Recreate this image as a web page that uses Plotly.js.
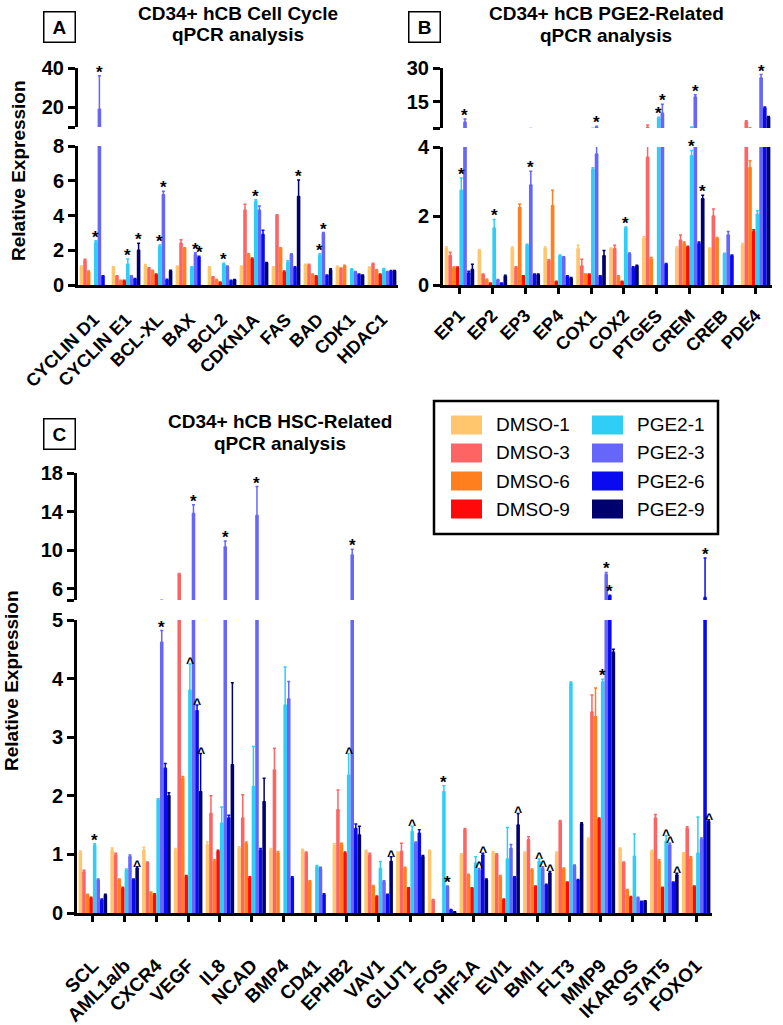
<!DOCTYPE html>
<html><head><meta charset="utf-8">
<script src="https://cdn.plot.ly/plotly-3.0.1.min.js"></script>
<style>html,body{margin:0;padding:0;background:#fff;} #chart{width:783px;height:1025px;}</style>
</head><body><div id="chart"></div>
<script>
// ---------------- DATA ----------------
const seriesNames = ['DMSO-1','DMSO-3','DMSO-6','DMSO-9','PGE2-1','PGE2-3','PGE2-6','PGE2-9'];
const seriesColors = ['#FFC66E','#FF6464','#FF7F1F','#FF0A0A','#2ECEF7','#6666FA','#0A0AF0','#00006E'];

// Panel A  (each row = one gene, 8 values in series order)
const aCategories = ['CYCLIN D1','CYCLIN E1','BCL-XL','BAX','BCL2','CDKN1A','FAS','BAD','CDK1','HDAC1'];
const aRows = [
 [1.05,1.4,0.75,null,2.45,19,0.5,null],
 [1.0,0.5,0.25,0.25,1.2,0.5,0.35,2.0],
 [1.1,0.95,0.8,0.6,2.2,5.2,0.3,0.8],
 [1.05,2.4,2.1,null,1.0,1.75,1.6,null],
 [1.0,0.45,0.3,0.15,1.2,1.05,0.25,0.3],
 [1.05,4.3,1.75,1.5,4.8,4.3,2.9,1.25],
 [1.0,4.0,2.1,0.75,1.3,1.75,1.0,5.1],
 [1.15,1.15,0.6,0.5,1.7,2.95,0.55,0.85],
 [1.05,0.95,1.1,null,0.9,0.75,0.6,0.55],
 [1.0,1.2,0.85,0.6,0.9,0.75,0.8,0.8]
];
const aErrRows = [
 [0.05,0.08,0.05,0,0.1,17,0.03,0],
 [0.05,0.03,0.02,0.02,0.3,0.03,0.03,0.4],
 [0.08,0.05,0.05,0.03,0.1,0.2,0.03,0.05],
 [0.05,0.2,0.05,0,0.05,0.1,0.05,0],
 [0.05,0.03,0.02,0.02,0.05,0.05,0.02,0.02],
 [0.05,0.35,0.05,0.05,0.1,0.25,0.25,0.05],
 [0.05,0.05,0.05,0.05,0.1,0.05,0.05,0.95],
 [0.05,0.05,0.03,0.03,0.1,0.07,0.03,0.08],
 [0.03,0.03,0.03,0,0.03,0.03,0.03,0.03],
 [0.03,0.05,0.03,0.03,0.05,0.03,0.03,0.03]
];
const aMarks = [['CYCLIN D1',4,'*'],['CYCLIN D1',5,'*'],['CYCLIN E1',4,'*'],['CYCLIN E1',7,'*'],
 ['BCL-XL',4,'*'],['BCL-XL',5,'*'],['BAX',5,'*'],['BAX',6,'*'],['BCL2',4,'*'],['CDKN1A',4,'*'],
 ['FAS',7,'*'],['BAD',4,'*'],['BAD',5,'*']];

// Panel B
const bCategories = ['EP1','EP2','EP3','EP4','COX1','COX2','PTGES','CREM','CREB','PDE4'];
const bRows = [
 [1.05,0.85,0.5,0.5,2.75,6,0.35,0.45],
 [1.0,0.3,0.15,0.05,1.65,0.15,0.05,0.25],
 [1.05,0.5,2.25,0.25,1.15,2.9,0.3,0.3],
 [1.05,0.7,2.3,0.1,0.85,0.8,0.25,0.2],
 [1.05,0.55,0.3,0.3,3.35,3.8,0.25,0.85],
 [1.05,1.05,0.25,0.1,1.65,0.9,0.5,0.55],
 [1.35,3.7,0.75,null,7.8,10,0.6,null],
 [1.05,1.3,1.2,1.1,3.75,17.2,1.2,2.5],
 [1.05,2.0,1.35,null,0.9,1.45,0.85,null],
 [1.15,6.2,3.4,1.55,2.05,25.6,12.3,8.4]
];
const bErrRows = [
 [0.05,0.1,0.02,0.02,0.35,1.5,0.05,0.15],
 [0.02,0.02,0.02,0.01,0.25,0.01,0.01,0.03],
 [0.05,0.03,0.1,0.02,0.03,0.4,0.02,0.02],
 [0.05,0.03,0.45,0.01,0.02,0.02,0.02,0.02],
 [0.1,0.2,0.02,0.02,0.05,0.5,0.02,0.15],
 [0.02,0.1,0.02,0.01,0.03,0.03,0.03,0.02],
 [0.05,1.1,0.05,0,0.5,4,0.02,0],
 [0.05,0.15,0.05,0.02,0.15,1,0.05,0.1],
 [0.02,0.2,0.03,0,0.02,0.1,0.02,0],
 [0.05,0.5,0.2,0.05,0.1,1.5,0.5,0.2]
];
const bMarks = [['EP1',4,'*'],['EP1',5,'*'],['EP2',4,'*'],['EP3',5,'*'],['COX1',5,'*'],['COX2',4,'*'],
 ['PTGES',4,'*'],['PTGES',5,'*'],['CREM',4,'*'],['CREM',5,'*'],['CREM',7,'*'],['PDE4',5,'*']];

// Panel C
const cCategories = ['SCL','AML1a/b','CXCR4','VEGF','IL8','NCAD','BMP4','CD41','EPHB2','VAV1',
 'GLUT1','FOS','HIF1A','EVI1','BMI1','FLT3','MMP9','IKAROS','STAT5','FOXO1'];
const cRows = [
 [1.03,0.7,0.3,0.25,1.15,0.56,0.22,0.3],
 [1.07,0.99,0.56,0.42,0.73,0.96,0.56,0.76],
 [1.07,0.85,0.34,0.31,1.93,4.62,2.47,2.0],
 [1.07,7.5,2.3,0.62,3.8,13.8,3.45,2.07],
 [1.16,1.7,0.88,1.05,1.53,10.35,1.62,2.53],
 [1.1,1.62,1.18,0.6,2.16,13.6,1.07,1.9],
 [1.07,2.44,1.02,null,3.55,3.65,0.6,null],
 [1.07,1.02,0.53,null,0.79,0.76,0.31,null],
 [1.15,1.76,1.16,1.02,2.35,9.5,1.44,1.33],
 [1.05,0.99,0.45,0.28,0.76,0.53,0.31,0.88],
 [1.02,1.05,0.76,0.42,1.39,1.19,1.36,0.96],
 [1.05,0.22,null,null,2.07,0.45,0.05,0.02],
 [0.99,1.42,0.64,0.42,0.85,0.73,0.99,0.56],
 [1.03,0.99,0.62,0.23,0.92,1.1,0.6,1.5],
 [1.02,1.25,0.73,0.45,0.88,0.76,0.48,0.68],
 [1.02,1.56,0.75,0.52,3.92,0.8,0.56,1.52],
 [1.25,3.43,3.35,1.6,3.94,7.5,5.3,4.45],
 [1.09,0.85,0.39,0.27,0.97,0.26,0.19,0.2],
 [1.05,1.62,0.88,0.43,1.22,1.16,0.52,0.65],
 [1.01,1.44,0.93,0.45,1.02,1.25,5.1,1.56]
];
const cErrRows = [
 [0.03,0.03,0.02,0.02,0.03,0.02,0.02,0.02],
 [0.04,0.03,0.02,0.02,0.02,0.03,0.02,0.03],
 [0.05,0.02,0.02,0.02,0.02,0.2,0.08,0.05],
 [0.03,0.1,0.03,0.02,0.45,0.9,0.1,0.65],
 [0.05,0.3,0.03,0.02,0.28,0.6,0.05,1.4],
 [0.03,0.4,0.03,0.02,0.68,3,0.03,0.4],
 [0.03,0.37,0.03,0,0.65,0.3,0.02,0],
 [0.02,0.02,0.02,0,0.02,0.02,0.02,0],
 [0.03,0.34,0.03,0.02,0.37,0.6,0.08,0.15],
 [0.02,0.03,0.02,0.01,0.12,0.02,0.01,0.08],
 [0.02,0.14,0.02,0.01,0.09,0.02,0.06,0.02],
 [0.02,0.01,0,0,0.1,0.01,0.01,0],
 [0.02,0.02,0.02,0.01,0.11,0.03,0.03,0.02],
 [0.02,0.02,0.02,0.01,0.54,0.07,0.02,0.2],
 [0.02,0.05,0.02,0.01,0.04,0.03,0.01,0.03],
 [0.02,0.02,0.02,0.01,0.02,0.02,0.01,0.02],
 [0.03,0.29,0.49,0.02,0.05,0.2,0.05,0.05],
 [0.02,0.02,0.01,0.01,0.38,0.01,0.01,0.01],
 [0.02,0.06,0.03,0.01,0.1,0.03,0.01,0.03],
 [0.02,0.03,0.03,0.01,0.62,0.03,4.1,0.03]
];
const cMarks = [['SCL',4,'*'],['AML1a/b',7,'^'],['CXCR4',5,'*'],['VEGF',4,'^'],['VEGF',5,'*'],['VEGF',6,'^'],
 ['VEGF',7,'^'],['IL8',5,'*'],['NCAD',5,'*'],['EPHB2',4,'^'],['EPHB2',5,'*'],['VAV1',7,'^'],['GLUT1',4,'^'],
 ['FOS',4,'*'],['FOS',5,'*'],['HIF1A',5,'^'],['HIF1A',6,'^'],['EVI1',7,'^'],['BMI1',4,'^'],['BMI1',5,'^'],
 ['BMI1',7,'^'],['MMP9',4,'*'],['MMP9',5,'*'],['MMP9',6,'*'],['STAT5',4,'^'],['STAT5',5,'^'],['STAT5',7,'^'],
 ['FOXO1',6,'*'],['FOXO1',7,'^']];

// ---------------- LAYOUT ----------------
const W = 783, H = 1025;
const FONT = 'Liberation Sans, Arial, Helvetica, sans-serif';
const BARGAP = 0.1;
const px = v => v / W;
const py = v => 1 - v / H;

const panels = [
 {cats:aCategories, rows:aRows, errs:aErrRows, marks:aMarks, x:'x', yLo:'y', yHi:'y2',
  xPx:[78,398], loPx:[285,146], hiPx:[127,68], loRange:[0,8], loTicks:[0,2,4,6,8],
  hiRange:[10,40], hiTicks:[10,20,40], hiText:['','20','40'], xticks:'', xfont:18, standoff:14},
 {cats:bCategories, rows:bRows, errs:bErrRows, marks:bMarks, x:'x2', yLo:'y3', yHi:'y4',
  xPx:[443,772], loPx:[285,147], hiPx:[128,68], loRange:[0,4], loTicks:[0,2,4],
  hiRange:[3.5,30], hiTicks:[3.5,15,30], hiText:['','15','30'], xticks:'outside', xfont:18, standoff:4},
 {cats:cCategories, rows:cRows, errs:cErrRows, marks:cMarks, x:'x3', yLo:'y5', yHi:'y6',
  xPx:[77,712], loPx:[913,620], hiPx:[600,473], loRange:[0,5], loTicks:[0,1,2,3,4,5],
  hiRange:[4.85,18], hiTicks:[4.85,6,10,14,18], hiText:['','6','10','14','18'], xticks:'outside', xfont:19, standoff:25}
];

const axName = id => (id[0] === 'x' ? 'xaxis' : 'yaxis') + id.slice(1);
const traces = [];
const layout = {
 width: W, height: H, margin:{l:0,r:0,t:0,b:0}, paper_bgcolor:'#fff', plot_bgcolor:'rgba(0,0,0,0)',
 barmode:'group', bargap:BARGAP, bargroupgap:0, showlegend:false,
 font:{family:FONT, color:'#000'}, annotations:[], shapes:[]
};

const yAxisBase = {
 showline:true, linewidth:3, linecolor:'#000', ticks:'outside', ticklen:7, tickwidth:3, tickcolor:'#000',
 showgrid:false, zeroline:false, fixedrange:true,
 tickfont:{family:FONT, size:20, color:'#000', weight:'bold'}
};

panels.forEach(p => {
 const n = p.cats.length;
 layout[axName(p.x)] = {
  domain:[px(p.xPx[0]), px(p.xPx[1])], anchor:p.yLo, type:'category', range:[-0.5, n - 0.5],
  showline:true, linewidth:3, linecolor:'#000', ticks:p.xticks, ticklen:6, tickwidth:3, tickcolor:'#000',
  tickangle:-45, showgrid:false, zeroline:false, fixedrange:true, ticklabelstandoff:p.standoff,
  tickfont:{family:FONT, size:p.xfont, color:'#000', weight:'bold'}
 };
 layout[axName(p.yLo)] = Object.assign({}, yAxisBase, {
  domain:[py(p.loPx[0]), py(p.loPx[1])], anchor:p.x, range:p.loRange, tickvals:p.loTicks
 });
 layout[axName(p.yHi)] = Object.assign({}, yAxisBase, {
  domain:[py(p.hiPx[0]), py(p.hiPx[1])], anchor:p.x, range:p.hiRange, tickvals:p.hiTicks, ticktext:p.hiText
 });

 seriesNames.forEach((name, i) => {
  const vals = p.rows.map(r => r[i]);
  const errs = p.errs.map(r => r[i]);
  [p.yLo, p.yHi].forEach(ya => {
   traces.push({
    type:'bar', name:name, x:p.cats, y:vals, xaxis:p.x, yaxis:ya,
    marker:{color:seriesColors[i], line:{width:0}},
    error_y:{type:'data', symmetric:false, array:errs, arrayminus:errs.map(() => 0),
      color:seriesColors[i], thickness:1.5, width:1.5},
    hoverinfo:'skip', showlegend:false
   });
  });
 });

 const gw = 1 - BARGAP, bw = gw / seriesNames.length;
 p.marks.forEach(([cat, si, sym]) => {
  const ci = p.cats.indexOf(cat);
  const v = p.rows[ci][si], e = p.errs[ci][si] || 0;
  const top = v + e;
  layout.annotations.push({
   xref:p.x, yref: top > p.loRange[1] ? p.yHi : p.yLo,
   x: ci - gw / 2 + (si + 0.5) * bw, y: top, text: sym, showarrow:false,
   xanchor:'center', yanchor:'bottom', yshift: sym === '*' ? -8 : -9,
   font:{family:FONT, size: sym === '*' ? 17 : 14, color:'#000', weight:'bold'}
  });
 });
});

// Titles and panel letters
const titleFont = {family:FONT, size:19, color:'#000', weight:'bold'};
const titles = [
 ['CD34+ hCB Cell Cycle', 238, 13], ['qPCR analysis', 238, 34],
 ['CD34+ hCB PGE2-Related', 606, 13], ['qPCR analysis', 606, 35],
 ['CD34+ hCB HSC-Related', 280, 422], ['qPCR analysis', 280, 444]
];
titles.forEach(([t, x, y]) => layout.annotations.push({
 xref:'paper', yref:'paper', x:px(x), y:py(y), text:t, showarrow:false,
 xanchor:'center', yanchor:'middle', font:titleFont
}));
[['A', 60, 26.5], ['B', 424, 26.5], ['C', 60, 434]].forEach(([t, x, y]) => layout.annotations.push({
 xref:'paper', yref:'paper', x:px(x), y:py(y), text:t, showarrow:false, xanchor:'center', yanchor:'middle',
 width:30, height:29, borderwidth:1.5, bordercolor:'#000', borderpad:0, bgcolor:'#fff',
 font:{family:FONT, size:19, color:'#000', weight:'bold'}
}));
// Y-axis titles
[[18, 171], [11, 681]].forEach(([x, y]) => layout.annotations.push({
 xref:'paper', yref:'paper', x:px(x), y:py(y), text:'Relative Expression', textangle:-90, showarrow:false,
 xanchor:'center', yanchor:'middle', font:{family:FONT, size:19, color:'#000', weight:'bold'}
}));

// Legend (drawn manually: box, swatches, labels)
layout.shapes.push({type:'rect', xref:'paper', yref:'paper', x0:px(434), x1:px(718), y0:py(534), y1:py(401),
 line:{color:'#000', width:2.5}, fillcolor:'#fff', layer:'below'});
const legRows = [425, 453, 481, 509];
seriesNames.forEach((name, i) => {
 const col = Math.floor(i / 4), row = i % 4;
 const sx = col === 0 ? 451 : 592, tx = col === 0 ? 494 : 635, cy = legRows[row];
 layout.shapes.push({type:'rect', xref:'paper', yref:'paper', x0:px(sx), x1:px(sx + 31),
  y0:py(cy + 9.5), y1:py(cy - 9.5), line:{width:0}, fillcolor:seriesColors[i]});
 layout.annotations.push({xref:'paper', yref:'paper', x:px(tx), y:py(cy), text:name, showarrow:false,
  xanchor:'left', yanchor:'middle', font:{family:FONT, size:19, color:'#000'}});
});

Plotly.newPlot('chart', traces, layout, {staticPlot:true});
</script></body></html>
